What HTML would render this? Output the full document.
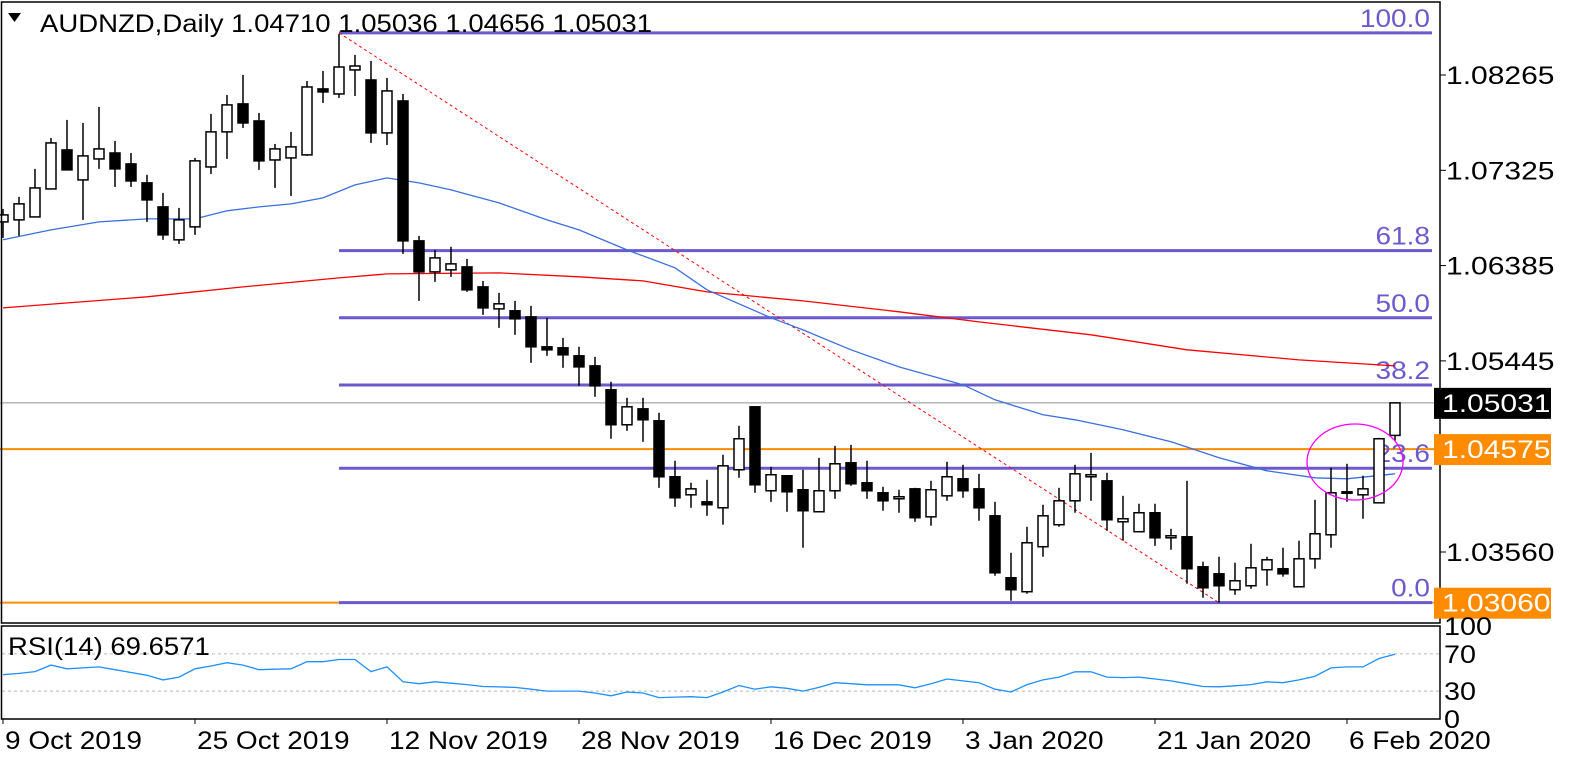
<!DOCTYPE html>
<html><head><meta charset="utf-8"><title>AUDNZD Daily</title>
<style>
html,body{margin:0;padding:0;background:#fff;}
svg{display:block;font-family:"Liberation Sans",sans-serif;}
</style></head>
<body>
<svg id="chart" width="1577" height="763" viewBox="0 0 1577 763" xmlns="http://www.w3.org/2000/svg">
<rect x="0" y="0" width="1577" height="763" fill="#fff"/>
<g id="main"></g>
<g id="rsi"></g>
<g id="axes"></g>
</svg>
<script>
const opens=[1.06816,1.06836,1.06865,1.07141,1.07526,1.0723,1.07437,1.07496,1.07388,1.07201,1.06964,1.06639,1.06767,1.07358,1.07704,1.0798,1.07812,1.07427,1.07447,1.07477,1.08128,1.08078,1.08315,1.08216,1.07694,1.08009,1.06629,1.06323,1.06343,1.06372,1.06175,1.05958,1.05939,1.05879,1.05584,1.05574,1.05495,1.05396,1.0516,1.04815,1.04972,1.04854,1.04302,1.04124,1.04055,1.03996,1.04371,1.04992,1.04164,1.04312,1.04174,1.03957,1.04164,1.0444,1.04243,1.04144,1.04085,1.04183,1.03907,1.04114,1.04282,1.04183,1.03917,1.03306,1.03168,1.03612,1.03829,1.04065,1.04302,1.04262,1.03858,1.0376,1.03947,1.037,1.0371,1.03414,1.03345,1.03188,1.03227,1.03385,1.03395,1.03217,1.03493,1.0373,1.04154,1.04124,1.04045,1.04710];
const highs=[1.06944,1.07063,1.07339,1.07644,1.07822,1.07792,1.0795,1.07615,1.07496,1.0728,1.07102,1.06954,1.07447,1.07881,1.08068,1.08266,1.07891,1.07585,1.07704,1.08206,1.08305,1.0867,1.08463,1.08404,1.08236,1.08078,1.06678,1.0654,1.0657,1.06451,1.06234,1.06116,1.06037,1.05988,1.0587,1.05672,1.05584,1.05485,1.05239,1.05081,1.05081,1.04933,1.0446,1.04243,1.04272,1.04519,1.04805,1.04834,1.044,1.04312,1.04371,1.04489,1.04607,1.04617,1.0446,1.04203,1.04174,1.04193,1.04262,1.0445,1.0442,1.04331,1.04055,1.03552,1.03809,1.04026,1.04193,1.0442,1.04538,1.04341,1.04114,1.04036,1.04036,1.03789,1.04262,1.03464,1.03513,1.03454,1.03641,1.03513,1.03602,1.03671,1.04075,1.0439,1.0443,1.04312,1.04686,1.05036];
const lows=[1.06658,1.06678,1.06865,1.07141,1.07329,1.06836,1.07339,1.07161,1.07161,1.06816,1.06639,1.06599,1.06688,1.07289,1.07437,1.07743,1.07329,1.07151,1.07072,1.07467,1.07989,1.08039,1.08058,1.07595,1.07575,1.06501,1.06037,1.06225,1.06274,1.06126,1.05899,1.05771,1.05702,1.05426,1.05495,1.05377,1.05199,1.05091,1.04677,1.04755,1.04647,1.04193,1.04006,1.03996,1.03917,1.03829,1.04292,1.04144,1.04055,1.03957,1.03602,1.03957,1.04085,1.04213,1.04085,1.03967,1.03947,1.03858,1.03819,1.04065,1.04095,1.03868,1.03326,1.03079,1.03148,1.03513,1.03809,1.03947,1.04065,1.03769,1.03671,1.0376,1.03621,1.03582,1.03247,1.03109,1.0306,1.03138,1.03197,1.03227,1.03316,1.03217,1.03395,1.03602,1.04055,1.03888,1.04045,1.04656];
const closes=[1.06885,1.06994,1.07151,1.07595,1.07329,1.07467,1.07536,1.07339,1.0722,1.07033,1.06688,1.06836,1.07418,1.07704,1.0797,1.07792,1.07418,1.07536,1.07556,1.08147,1.08098,1.08344,1.08354,1.07694,1.08108,1.06629,1.06323,1.06461,1.06402,1.06146,1.05968,1.06008,1.0586,1.05584,1.05554,1.05505,1.05386,1.05199,1.04815,1.04992,1.04864,1.04302,1.04095,1.04183,1.04026,1.0441,1.04677,1.04223,1.04322,1.04154,1.03967,1.04164,1.0443,1.04233,1.04164,1.04065,1.04105,1.03898,1.04174,1.04302,1.04164,1.03996,1.03355,1.03188,1.03651,1.03917,1.04065,1.04331,1.04322,1.03878,1.03888,1.03947,1.037,1.0372,1.03395,1.03207,1.03227,1.03276,1.03404,1.03483,1.03345,1.03493,1.0374,1.04144,1.04154,1.04183,1.04677,1.05031];
const maFastIdx=[0,3,6,9,12,14,16,18,20,22,24,26,28,31,34,36,39,42,44,48,50,53,56,60,62,65,67,70,73,76,79,82,84,87];
const maFastVals=[1.06639,1.06737,1.06816,1.06846,1.06846,1.06925,1.06964,1.06994,1.07053,1.07181,1.0725,1.07201,1.07132,1.07003,1.06836,1.06737,1.0654,1.06363,1.06146,1.0587,1.05751,1.05554,1.05386,1.05209,1.05061,1.04913,1.04864,1.04765,1.04647,1.04489,1.04361,1.04292,1.04282,1.04331];
const maSlowIdx=[0,9,15,21,24,31,36,40,44,50,56,61,68,74,81,87];
const maSlowVals=[1.05968,1.06077,1.06175,1.06264,1.06303,1.06313,1.06274,1.06234,1.06126,1.06037,1.05929,1.0583,1.05702,1.05554,1.05455,1.05396];
const rsiVals=[47.6,49,51,58,54,55,56,53,50,47,42,45,54,57,60.5,58,53,53.5,54,61.6,61.6,64,64,51,56,40,38,40,38.5,37,35,34.5,34,32,30,30,30,28,25,29,28,23,23.5,24,23,29,36,32,34.6,33,30,34,39,38,36.8,36.8,36.8,33.5,38,43,41,39,32,29,37,42,45,50.8,50.8,45,44.5,45,43,41,38,35,34.6,35.7,37,40,39,42,46,55,56,56,65,69.66];
const priceTicks=[1.08265,1.07325,1.06385,1.05445,1.03560];
const dateLabels=["9 Oct 2019","25 Oct 2019","12 Nov 2019","28 Nov 2019","16 Dec 2019","3 Jan 2020","21 Jan 2020","6 Feb 2020"];
const dateIdx=[0,12,24,36,48,60,72,84];
const fibLevels=[100.0,61.8,50.0,38.2,23.6,0.0];
const fibLabels=["100.0","61.8","50.0","38.2","23.6","0.0"];
const fibHigh=1.0868, fibLow=1.0306, fibStartIdx=21, trendEndIdx=76;
const bidPrice=1.05031, orangeLevel=1.04575, orangeLow=1.03060;
const rsiTicks=[100,70,30,0];

const NS="http://www.w3.org/2000/svg";
function el(tag,attrs,parent,text){const e=document.createElementNS(NS,tag);for(const k in attrs)e.setAttribute(k,attrs[k]);if(text!==undefined)e.textContent=text;parent.appendChild(e);return e;}
function stretch(t,f){const w=t.getComputedTextLength();t.setAttribute('textLength',(w*f).toFixed(1));t.setAttribute('lengthAdjust','spacingAndGlyphs');}
const X=i=>3+16*i;
const Y=p=>75+(1.08265-p)*10138;
const RY=v=>719-v*0.93;
const main=document.getElementById('main'), rsi=document.getElementById('rsi'), axes=document.getElementById('axes');
const PR=1440;

let g=el('line',{x1:0,x2:PR,y1:Y(bidPrice),y2:Y(bidPrice),stroke:'#8a8f98','stroke-width':1},main);

g=el('line',{x1:0,x2:PR,y1:Y(orangeLevel),y2:Y(orangeLevel),stroke:'#ff8c00','stroke-width':2},main);

g=el('line',{x1:0,x2:PR,y1:Y(orangeLow),y2:Y(orangeLow),stroke:'#ff8c00','stroke-width':2},main);


fibLevels.forEach((lv,k)=>{const p=fibLow+(fibHigh-fibLow)*lv/100;const y=Y(p);
 const l=el('line',{x1:X(fibStartIdx),x2:1432,y1:y,y2:y,stroke:'#6a5acd','stroke-width':3},main);
 
 const t=el('text',{x:1430,y:y-6,'text-anchor':'end','font-size':25,fill:'#6a5acd'},main,fibLabels[k]);
 
 stretch(t,1.12);});

g=el('line',{x1:X(fibStartIdx),y1:Y(fibHigh),x2:X(trendEndIdx),y2:Y(fibLow),stroke:'#ff0000','stroke-width':1,'stroke-dasharray':'3,3'},main);


function maPath(idx,vals,color,name){const d=idx.map((i,k)=>(k?'L':'M')+X(i)+','+Y(vals[k]).toFixed(1)).join('');
 const p=el('path',{d:d,fill:'none',stroke:color,'stroke-width':1.3},main);
 }
maPath(maSlowIdx,maSlowVals,'#ff0000','slow-moving-average');
maPath(maFastIdx,maFastVals,'#3a6fe0','fast-moving-average');

opens.forEach((o,i)=>{const c=closes[i],x=X(i);
 const w=el('line',{x1:x,x2:x,y1:Y(highs[i]),y2:Y(lows[i]),stroke:'#000','stroke-width':1.5},main);
 
 const top=Y(Math.max(o,c)),bot=Y(Math.min(o,c));
 const r=el('rect',{x:x-5,y:top,width:10,height:Math.max(bot-top,1.5),fill:c>=o?'#fff':'#000',stroke:'#000','stroke-width':1.5},main);
 });

g=el('ellipse',{cx:1355,cy:462,rx:48,ry:38,fill:'none',stroke:'#ff00ff','stroke-width':1.3},main);


g=el('path',{d:'M8,13 L21,13 L14.5,22 Z',fill:'#000'},main);

g=el('text',{x:40,y:32,'font-size':25,fill:'#000',textLength:612,lengthAdjust:'spacingAndGlyphs'},main,'AUDNZD,Daily  1.04710 1.05036 1.04656 1.05031');


g=el('rect',{x:1.5,y:2,width:PR-1.5,height:621,fill:'none',stroke:'#000','stroke-width':1.5},axes);

g=el('rect',{x:1.5,y:626,width:PR-1.5,height:93,fill:'none',stroke:'#000','stroke-width':1.5},axes);


priceTicks.forEach(p=>{const y=Y(p);
 const tk=el('line',{x1:PR,x2:PR+6,y1:y,y2:y,stroke:'#000','stroke-width':1},axes);
 
 const t=el('text',{x:PR+6,y:y+9,'font-size':25,fill:'#000'},axes,p.toFixed(5));
 
 stretch(t,1.2);});
function tag(p,bg,name){const y=Y(p);
 const r=el('rect',{x:PR-6,y:y-15,width:117,height:31,fill:bg},axes);
 
 const t=el('text',{x:PR+2,y:y+9,'font-size':25,fill:'#fff'},axes,p.toFixed(5));
 
 stretch(t,1.2);}
tag(bidPrice,'#000','bid-price-tag');
tag(orangeLevel,'#ff8c00','resistance-price-tag');
tag(orangeLow,'#ff8c00','support-price-tag');

[70,30].forEach(v=>{const l=el('line',{x1:2,x2:PR,y1:RY(v),y2:RY(v),stroke:'#b8b8b8','stroke-width':1,'stroke-dasharray':'3,3'},rsi);
 });
g=el('path',{d:rsiVals.map((v,i)=>(i?'L':'M')+X(i)+','+RY(v).toFixed(1)).join(''),fill:'none',stroke:'#1e90ff','stroke-width':1.3},rsi);

g=el('text',{x:8,y:655,'font-size':25,fill:'#000'},rsi,'RSI(14) 69.6571');

stretch(g,1.1);
rsiTicks.forEach(v=>{const t=el('text',{x:PR+4,y:RY(v)+9,'font-size':25,fill:'#000'},axes,String(v));
 
 stretch(t,1.15);});

dateIdx.forEach((i,k)=>{const x=X(i);
 const tk=el('line',{x1:x,x2:x,y1:719,y2:724,stroke:'#000','stroke-width':1},axes);
 
 const t=el('text',{x:x+2,y:749,'font-size':25,fill:'#000'},axes,dateLabels[k]);
 
 stretch(t,1.12);});
</script>
</body></html>
